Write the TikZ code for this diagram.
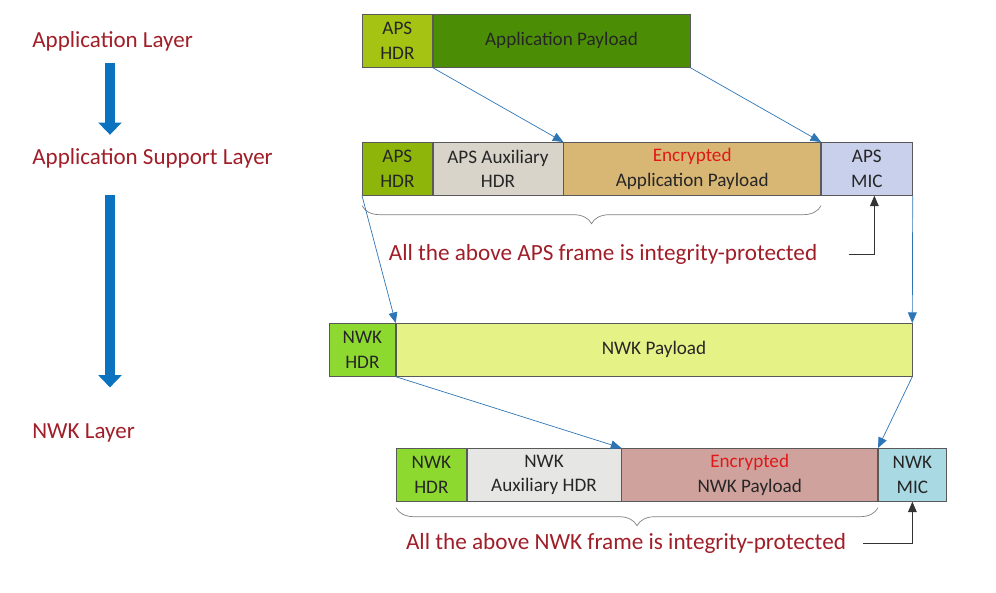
\documentclass[tikz,border=0pt]{standalone}
\usepackage{fontspec}
\setmainfont{Carlito}
\usepackage{xcolor}
\usetikzlibrary{positioning,arrows.meta,decorations.pathreplacing}

\definecolor{layerred}{HTML}{A01E28}
\definecolor{encred}{HTML}{E01818}
\definecolor{flowblue}{HTML}{2E75B6}
\definecolor{arrowblue}{HTML}{0A72BE}
\definecolor{apshdr}{HTML}{A4C313}
\definecolor{apppay}{HTML}{4B8E05}
\definecolor{apshdrb}{HTML}{8DB50A}
\definecolor{apsaux}{HTML}{D9D4CA}
\definecolor{apsenc}{HTML}{D8B775}
\definecolor{apsmic}{HTML}{C9D0EC}
\definecolor{nwkhdr}{HTML}{8ED92F}
\definecolor{nwkpay}{HTML}{E5F285}
\definecolor{nwkaux}{HTML}{E6E6E4}
\definecolor{nwkenc}{HTML}{CFA29D}
\definecolor{nwkmic}{HTML}{A9D9E2}

\begin{document}
\begin{tikzpicture}[
  x=0.02cm, y=-0.02cm,
  seg/.style={rectangle, draw=black!65, anchor=north west, minimum height=1.06cm, inner sep=0pt, align=center, text=black!85, font=\fontsize{10.9}{13.8}\selectfont},
  layer/.style={anchor=west, inner sep=0pt, text=layerred, font=\fontsize{13.1}{15}\selectfont},
  note/.style={inner sep=0pt, text=layerred, font=\fontsize{13.2}{16}\selectfont},
  flow/.style={draw=flowblue, -{Triangle[length=6pt,width=5pt]}},
  bigarrow/.style={draw=arrowblue, line width=5.7pt, -{Triangle[length=7pt,width=13pt]}},
  micarrow/.style={draw=black!80, -{Triangle[length=6pt,width=5pt]}},
  framebrace/.style={draw=gray, decorate, decoration={brace, mirror, amplitude=0.36cm}},
]
\useasboundingbox (0,0) rectangle (996,592);

% Layers
\node[layer] (appl) at (32,41) {Application Layer};
\node[layer] (asl) at (32,158) {Application Support Layer};
\node[layer] (nwkl) at (32,433) {NWK Layer};
\draw[bigarrow, shorten <=0.24cm, shorten >=0.26cm] ([xshift=1.56cm]appl.south west) -- ([xshift=1.56cm]asl.north west);
\draw[bigarrow, shorten <=0.54cm, shorten >=0.72cm] ([xshift=1.56cm]asl.south west) -- ([xshift=1.56cm]nwkl.north west);

% Application frame
\node[seg, fill=apshdr, minimum width=1.40cm] (ahdr) at (362,14) {APS\\HDR};
\node[seg, fill=apppay, minimum width=5.14cm, right=0pt of ahdr] (apay) {Application Payload};

% APS frame
\node[seg, fill=apshdrb, minimum width=1.40cm] (shdr) at (362,142) {APS\\HDR};
\node[seg, fill=apsaux, minimum width=2.60cm, right=0pt of shdr] (saux) {APS Auxiliary\\HDR};
\node[seg, fill=apsenc, minimum width=5.14cm, right=0pt of saux] (senc) {{\color{encred}Encrypted}\\Application Payload};
\node[seg, fill=apsmic, minimum width=1.82cm, right=0pt of senc] (smic) {APS\\MIC};

\draw[framebrace] ([yshift=-0.2cm]shdr.south west) -- ([yshift=-0.2cm]senc.south east);
\node[note] (prot1) at (603,254) {All the above APS frame is integrity-protected};
\draw[micarrow] ([xshift=0.62cm]prot1.east) -| ([xshift=0.15cm]smic.south);

% NWK frame
\node[seg, fill=nwkhdr, minimum width=1.32cm] (nhdr) at (329,323) {NWK\\HDR};
\node[seg, fill=nwkpay, minimum width=10.32cm, right=0pt of nhdr] (npay) {NWK Payload};

% secured NWK frame
\node[seg, fill=nwkhdr, minimum width=1.40cm] (mhdr) at (396,448) {NWK\\HDR};
\node[seg, fill=nwkaux, minimum width=3.08cm, right=0pt of mhdr] (maux) {NWK\\Auxiliary HDR};
\node[seg, fill=nwkenc, minimum width=5.12cm, right=0pt of maux] (menc) {{\color{encred}Encrypted}\\NWK Payload};
\node[seg, fill=nwkmic, minimum width=1.36cm, right=0pt of menc] (mmic) {NWK\\MIC};

\draw[framebrace] ([yshift=-0.12cm]mhdr.south west) -- ([yshift=-0.12cm]menc.south east);
\node[note] (prot2) at (626,543) {All the above NWK frame is integrity-protected};
\draw[micarrow] ([xshift=0.34cm]prot2.east) -| (mmic.south);

% Mapping lines
\draw[flow] (ahdr.south east) -- (senc.north west);
\draw[flow] (apay.south east) -- (smic.north west);
\draw[flow] (shdr.south west) -- (nhdr.north east);
\draw[flow] (smic.south east) -- (npay.north east);
\draw[flow] (nhdr.south east) -- (menc.north west);
\draw[flow] (npay.south east) -- (mmic.north west);

\end{tikzpicture}
\end{document}
